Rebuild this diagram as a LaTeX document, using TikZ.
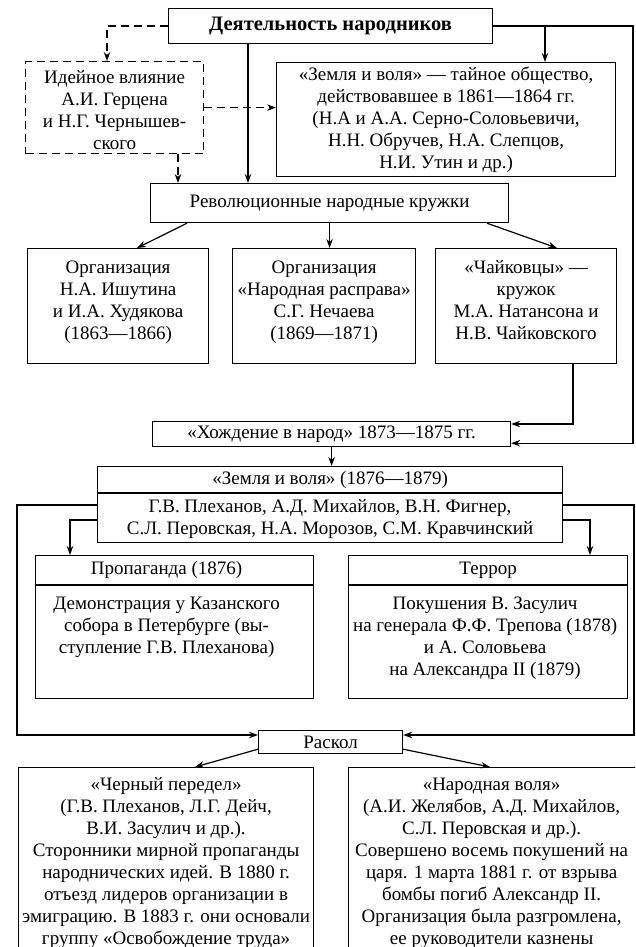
\documentclass[tikz,border=0pt]{standalone}
\usepackage{fontspec}
\setmainfont{Liberation Serif}
\usetikzlibrary{arrows.meta,calc}
\begin{document}
\begin{tikzpicture}[x=1pt,y=-1pt,
  line width=1.2pt,
  box/.style={draw, line width=1.2pt, inner sep=0pt, anchor=north west},
  txt/.style={align=center, inner sep=0pt, font=\fontsize{19}{22}\selectfont},
  arr/.style={-{Stealth[length=9pt,width=6.5pt]}},
  dsh/.style={dash pattern=on 8pt off 5pt}
]
\useasboundingbox (0,0) rectangle (635,947);
\clip (0,0) rectangle (635,947);

% boxes
\node[box, minimum width=324pt, minimum height=35pt] (top) at (168,8) {};
\node[box, dsh, minimum width=178pt, minimum height=92pt] (ideas) at (25,61) {};
\node[box, minimum width=339pt, minimum height=114pt] (zv1) at (276,62) {};
\node[box, minimum width=358pt, minimum height=39pt] (rev) at (150,183) {};
\node[box, minimum width=181pt, minimum height=115pt] (org1) at (27,248) {};
\node[box, minimum width=183pt, minimum height=115pt] (org2) at (232,248) {};
\node[box, minimum width=181pt, minimum height=115pt] (org3) at (435,248) {};
\node[box, minimum width=358pt, minimum height=25pt] (hozh) at (152,421) {};
\node[box, minimum width=465pt, minimum height=76pt] (zv2) at (97,466) {};
\node[box, minimum width=278pt, minimum height=143pt] (prop) at (35,555) {};
\node[box, minimum width=279pt, minimum height=143pt] (terr) at (348,555) {};
\node[box, minimum width=144pt, minimum height=23pt] (raskol) at (258,730) {};
\node[box, minimum width=295pt, minimum height=200pt] (chern) at (18,767) {};
\node[box, minimum width=300pt, minimum height=200pt] (narod) at (348,767) {};

% dividers
\draw ($(zv2.north west)+(0,27)$) -- ($(zv2.north east)+(0,27)$);
\draw ($(prop.north west)+(0,30)$) -- ($(prop.north east)+(0,30)$);
\draw ($(terr.north west)+(0,30)$) -- ($(terr.north east)+(0,30)$);

% texts
\node[txt, font=\fontsize{20.5}{22}\selectfont\bfseries] (ttop) at (top.center) {Деятельность народников};
\node[txt] (tideas) at ($(ideas.center)+(0,2)$) {Идейное влияние\\А.И. Герцена\\и Н.Г. Чернышев-\\ского};
\node[txt] (tzv1) at (zv1.center) {«Земля и воля» — тайное общество,\\действовавшее в 1861—1864 гг.\\(Н.А и А.А. Серно-Соловьевичи,\\Н.Н. Обручев, Н.А. Слепцов,\\Н.И. Утин и др.)};
\node[txt] (trev) at (rev.center) {Революционные народные кружки};
\node[txt, anchor=north] (torg1) at ($(org1.north)+(0,9)$) {\strut Организация\\Н.А. Ишутина\\и И.А. Худякова\\(1863—1866)};
\node[txt, anchor=north] (torg2) at ($(org2.north)+(0,9)$) {\strut Организация\\«Народная расправа»\\С.Г. Нечаева\\(1869—1871)};
\node[txt, anchor=north] (torg3) at ($(org3.north)+(0,9)$) {\strut «Чайковцы» —\\кружок\\М.А. Натансона и\\Н.В. Чайковского};
\node[txt] (thozh) at (hozh.center) {«Хождение в народ» 1873—1875 гг.};
\node[txt] (tzv2a) at ($(zv2.north)+(0,13.5)$) {«Земля и воля» (1876—1879)};
\node[txt] (tzv2b) at ($(zv2.north)+(0,53)$) {Г.В. Плеханов, А.Д. Михайлов, В.Н. Фигнер,\\С.Л. Перовская, Н.А. Морозов, С.М. Кравчинский};
\node[txt] (tpropa) at ($(prop.north)+(-8,15)$) {Пропаганда (1876)};
\node[txt, anchor=north] (tpropb) at ($(prop.north)+(-8,38)$) {\strut Демонстрация у Казанского\\собора в Петербурге (вы-\\ступление Г.В. Плеханова)};
\node[txt] (tterra) at ($(terr.north)+(0,15)$) {Террор};
\node[txt, anchor=north] (tterrb) at ($(terr.north)+(-3,38)$) {\strut Покушения В. Засулич\\на генерала Ф.Ф. Трепова (1878)\\и А. Соловьева\\на Александра II (1879)};
\node[txt] (traskol) at (raskol.center) {Раскол};
\node[txt, anchor=north] (tchern) at ($(chern.north)+(0,7)$) {\strut «Черный передел»\\(Г.В. Плеханов, Л.Г. Дейч,\\В.И. Засулич и др.).\\Сторонники мирной пропаганды\\народнических идей. В 1880 г.\\отъезд лидеров организации в\\эмиграцию. В 1883 г. они основали\\группу «Освобождение труда»};
\node[txt, anchor=north] (tnarod) at ($(narod.north)+(-7,7)$) {\strut «Народная воля»\\(А.И. Желябов, А.Д. Михайлов,\\С.Л. Перовская и др.).\\Совершено восемь покушений на\\царя. 1 марта 1881 г. от взрыва\\бомбы погиб Александр II.\\Организация была разгромлена,\\ее руководители казнены};

% helper coordinates
\coordinate (rline) at (633,0);
\coordinate (lline) at (17,0);
\coordinate (rline2) at (634,0);
\coordinate (idn) at ($(ideas.north west)+(82,0)$);
\coordinate (ids) at ($(ideas.south west)+(153,0)$);
\coordinate (t1) at ($(top.south west)+(80,0)$);
\coordinate (zvt) at ($(zv1.north west)+(269,0)$);
\coordinate (hzl) at ($(hozh.south east)+(0,-4)$);
\coordinate (hzu) at ($(hozh.north east)+(0,3)$);
\coordinate (r1) at ($(rev.south west)+(37,0)$);
\coordinate (o1) at ($(org1.north west)+(110,0)$);
\coordinate (r3) at ($(rev.south west)+(337,0)$);
\coordinate (o3) at ($(org3.north west)+(122,0)$);
\coordinate (o3b) at ($(org3.south west)+(138,0)$);
\coordinate (zl1) at ($(zv2.north west)+(0,39)$);
\coordinate (zl2) at ($(zv2.north west)+(0,54)$);
\coordinate (zr1) at ($(zv2.north east)+(0,39)$);
\coordinate (zr2) at ($(zv2.north east)+(0,54)$);
\coordinate (pt) at ($(prop.north west)+(35,0)$);
\coordinate (tt) at ($(terr.north west)+(242,0)$);
\coordinate (rkl) at ($(raskol.north west)+(0,5)$);
\coordinate (rkr) at ($(raskol.north east)+(0,5)$);
\coordinate (rks1) at ($(raskol.south west)+(0,-5)$);
\coordinate (rks2) at ($(raskol.south east)+(0,-5)$);
\coordinate (ch1) at ($(chern.north west)+(177,0)$);
\coordinate (na1) at ($(narod.north west)+(142,0)$);

% connectors
\draw[dsh, arr] (top.west) -| (idn);
\draw[dsh, arr] (ideas.east) -- (ideas.east -| zv1.west);
\draw[dsh, arr] (ids) -- (ids |- rev.north);
\draw[arr] (t1) -- (t1 |- rev.north);
\draw[arr] (top.east) -- (top.east -| rline) -- (rline |- hzl) -- (hzl);
\draw[arr] (zvt |- top.east) -- (zvt);
\draw[arr] (r1) -- (o1);
\draw[arr] (rev.south) -- (rev.south |- org2.north);
\draw[arr] (r3) -- (o3);
\draw[arr] (o3b) |- (hzu);
\draw[arr] (hozh.south) -- (hozh.south |- zv2.north);
\draw[arr] (zl1) -- (zl1 -| lline) -- (lline |- rkl) -- (rkl);
\draw[arr] (zl2) -| (pt);
\draw[arr] (zr1) -- (zr1 -| rline2) -- (rline2 |- rkr) -- (rkr);
\draw[arr] (zr2) -| (tt);
\draw[arr] (rks1) -- (ch1);
\draw[arr] (rks2) -- (na1);
\end{tikzpicture}
\end{document}
